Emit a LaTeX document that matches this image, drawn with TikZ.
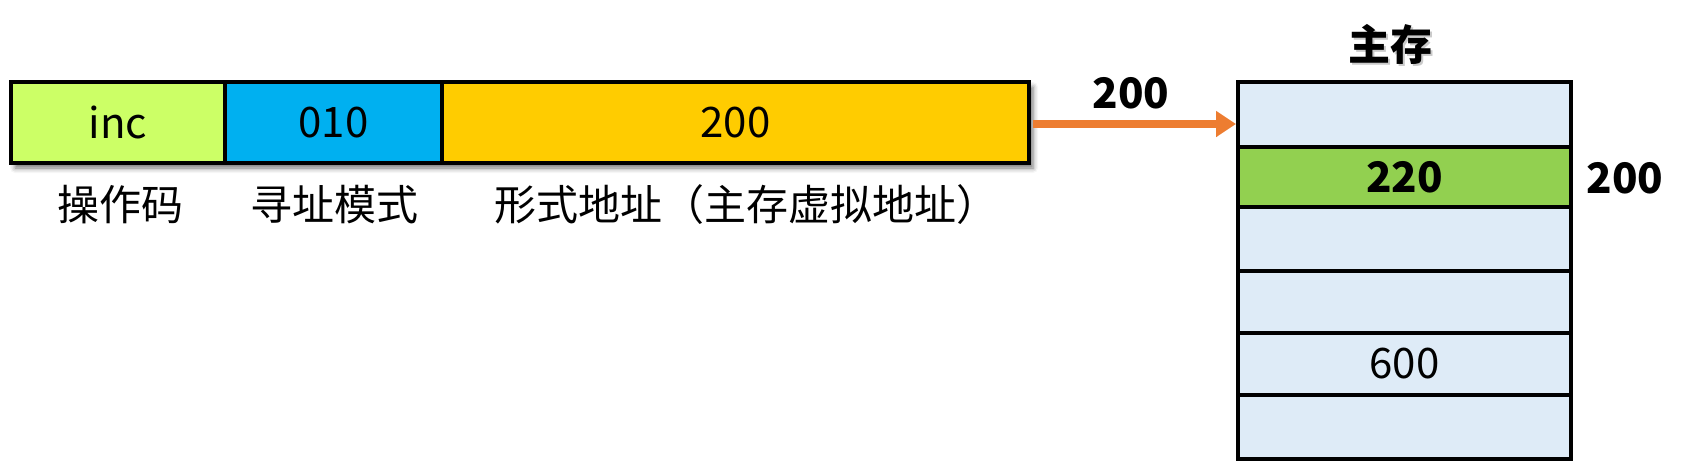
\documentclass[tikz,border=0pt]{standalone}
\usepackage{fontspec}
\setmainfont{Noto Sans CJK SC}
\usetikzlibrary{arrows.meta,shadows.blur}
\definecolor{cinc}{HTML}{CCFF66}
\definecolor{cmode}{HTML}{00B0F0}
\definecolor{caddr}{HTML}{FFCC00}
\definecolor{cmem}{HTML}{DEEBF7}
\definecolor{chit}{HTML}{92D050}
\definecolor{carrow}{HTML}{ED7D31}
\tikzset{
  field/.style={draw=black,line width=2pt,inner sep=0pt,minimum height=40.5pt,
    font=\fontsize{21pt}{25pt}\selectfont},
  cell/.style={draw=black,line width=2pt,inner sep=0pt,minimum width=166.5pt,fill=cmem,
    font=\fontsize{21pt}{25pt}\selectfont},
  caption/.style={inner sep=0pt,font=\fontsize{21pt}{25pt}\selectfont},
  boldlbl/.style={inner sep=0pt,font=\fontsize{21pt}{25pt}\selectfont\bfseries},
}
\begin{document}
\begin{tikzpicture}[x=0.5pt,y=-0.5pt]
\useasboundingbox (0,0) rectangle (1689,461);
% shadow of the instruction bar
\path[blur shadow={shadow xshift=2pt,shadow yshift=-2.5pt,shadow blur radius=2.5pt,shadow opacity=55}]
  (11,82) rectangle (1029,163);
% instruction fields
\node[field,fill=cinc,minimum width=107pt] (op) at (118,122.5) {inc};
\node[field,fill=cmode,minimum width=108.5pt] (mode) at (333.5,122.5) {010};
\node[field,fill=caddr,minimum width=293.5pt] (addr) at (735.5,122.5) {200};
% captions
\node[caption] (opl) at (120,205) {操作码};
\node[caption] (model) at (334,205) {寻址模式};
\node[caption] (addrl) at (746,205) {形式地址（主存虚拟地址）};
% memory
\node[cell,minimum height=32.5pt] (m1) at (1404.5,114.5) {};
\node[cell,minimum height=30pt,fill=chit,font=\fontsize{21pt}{25pt}\selectfont\bfseries] (m2) at (1404.5,177) {220};
\node[cell,minimum height=32pt] (m3) at (1404.5,239) {};
\node[cell,minimum height=31pt] (m4) at (1404.5,302) {};
\node[cell,minimum height=31pt] (m5) at (1404.5,364) {600};
\node[cell,minimum height=31.75pt] (m6) at (1404.5,426.75) {};
% title with soft shadow
\node[boldlbl,text=black!35,opacity=0.6] at (1392,46) {主存};
\node[boldlbl] (title) at (1390,44) {主存};
% arrow
\coordinate (astart) at ([xshift=1pt,yshift=-0.75pt]addr.east);
\coordinate (aend) at (astart -| m1.west);
\draw[carrow,line width=3.6pt,-{Triangle[length=10pt,width=12.5pt]}] (astart) -- (aend);
\node[boldlbl] (alabel) at (1131,93) {200};
\node[boldlbl] (maddr) at (1625,178) {200};
\end{tikzpicture}
\end{document}
